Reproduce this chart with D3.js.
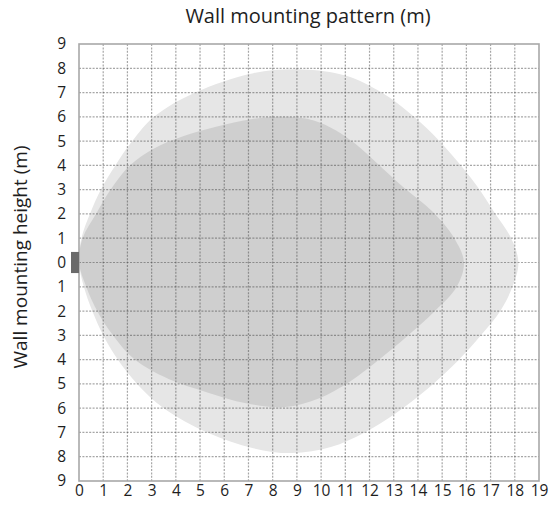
<!DOCTYPE html>
<html>
<head>
<meta charset="utf-8">
<script src="https://cdn.jsdelivr.net/npm/d3@7"></script>
<style>
  body { margin: 0; background: #fff; }
  svg text { font-family: "Open Sans", "Noto Sans", sans-serif; fill: #1e1e1e; }
</style>
</head>
<body>
<svg id="svg" width="552" height="507"></svg>
<script>
    // coverage zones, [distance from wall (m), height offset (m)]
    var outerZone = [[0, 0], [0.1, 1], [0.45, 2], [0.9, 3], [1.5, 4], [2.2, 5], [3.1, 6], [4.8, 7],
        [7.2, 7.8], [9.2, 7.95], [11, 7.7], [12.5, 7], [13.6, 6.2], [14.6, 5.3], [15.6, 4.2], [16.4, 3.2],
        [17.2, 2], [17.85, 1], [18.15, 0], [17.9, -1], [17.4, -2], [16.6, -3], [15.6, -4.1], [14.4, -5.2],
        [13.1, -6.2], [11.8, -7], [10.4, -7.6], [8.8, -7.85], [7.2, -7.65], [5.3, -7], [3.5, -6],
        [2.4, -5], [1.6, -4], [1.0, -3], [0.55, -2], [0.2, -1]];
    var innerZone = [[0, 0], [0.15, 1], [0.7, 2], [1.3, 3], [2.1, 4], [3.1, 4.7], [4.3, 5.2], [5.7, 5.6],
        [7.1, 5.9], [8.5, 6.0], [9.7, 5.85], [10.6, 5.45], [11.4, 4.9], [12.3, 4.1], [13.4, 3.1], [14.6, 2.1],
        [15.5, 1], [15.9, 0], [15.6, -1], [14.7, -2], [13.6, -3], [12.4, -4], [11.2, -4.9], [9.9, -5.6],
        [8.5, -5.95], [6.9, -5.8], [5.3, -5.35], [3.7, -4.8], [2.3, -4], [1.4, -3], [0.75, -2], [0.3, -1]];
    var xTicks = d3.range(0, 20);
    var yTicks = d3.range(-9, 10);
    var sensorHeight = 0.87;   // wall unit

    var svg = d3.select("#svg");
    var x = d3.scaleLinear().domain([0, 19]).range([79, 539]);
    var y = d3.scaleLinear().domain([-9, 9]).range([481, 44]);

    var zone = d3.line()
        .x(function (d) { return x(d[0]); })
        .y(function (d) { return y(d[1]); })
        .curve(d3.curveCatmullRomClosed.alpha(0.5));

    svg.append("clipPath").attr("id", "plot")
        .append("rect")
        .attr("x", x(0)).attr("y", y(9))
        .attr("width", x(19) - x(0)).attr("height", y(-9) - y(9));

    var g = svg.append("g").attr("clip-path", "url(#plot)");
    g.append("path").attr("d", zone(outerZone)).attr("fill", "#e6e6e6");
    g.append("path").attr("d", zone(innerZone)).attr("fill", "#cfcfcf");

    // dotted grid
    g.selectAll(".vgrid")
        .data(xTicks.slice(1, -1))
        .enter().append("line")
        .attr("class", "vgrid")
        .attr("x1", function (d) { return x(d); })
        .attr("x2", function (d) { return x(d); })
        .attr("y1", y(9)).attr("y2", y(-9));
    g.selectAll(".hgrid")
        .data(yTicks.slice(1, -1))
        .enter().append("line")
        .attr("class", "hgrid")
        .attr("y1", function (d) { return y(d); })
        .attr("y2", function (d) { return y(d); })
        .attr("x1", x(0)).attr("x2", x(19));
    g.selectAll("line")
        .attr("stroke", "#3a3a3a")
        .attr("stroke-opacity", 0.45)
        .attr("stroke-width", 1.2)
        .attr("stroke-dasharray", "2,1.4");

    svg.append("rect")
        .attr("x", x(0)).attr("y", y(9))
        .attr("width", x(19) - x(0)).attr("height", y(-9) - y(9))
        .attr("fill", "none")
        .attr("stroke", "#a8a8a8")
        .attr("stroke-width", 1.6);

    // sensor on the wall
    svg.append("rect")
        .attr("x", x(0) - 8).attr("y", y(sensorHeight / 2))
        .attr("width", 8).attr("height", y(-sensorHeight / 2) - y(sensorHeight / 2))
        .attr("fill", "#6a6a6a");

    var xAxis = svg.append("g")
        .attr("transform", "translate(0,485)")
        .call(d3.axisBottom(x).tickValues(xTicks).tickSize(0).tickPadding(0).tickFormat(d3.format("d")));
    var yAxis = svg.append("g")
        .attr("transform", "translate(69,0)")
        .call(d3.axisLeft(y).tickValues(yTicks).tickSize(0)
            .tickFormat(function (d) { return Math.abs(d); }));
    svg.selectAll(".domain").remove();
    xAxis.selectAll("text").attr("font-size", 15.5).attr("dy", "0.71em");
    yAxis.selectAll("text").attr("font-size", 15.5);
    svg.selectAll(".tick text").style("font-family", "'Open Sans', sans-serif").attr("fill", "#1e1e1e");

    svg.append("text")
        .attr("x", 308).attr("y", 23)
        .attr("text-anchor", "middle")
        .attr("font-size", 20)
        .text("Wall mounting pattern (m)");

    svg.append("text")
        .attr("transform", "translate(27,257) rotate(-90)")
        .attr("text-anchor", "middle")
        .attr("font-size", 19)
        .text("Wall mounting height (m)");
</script>
</body>
</html>
